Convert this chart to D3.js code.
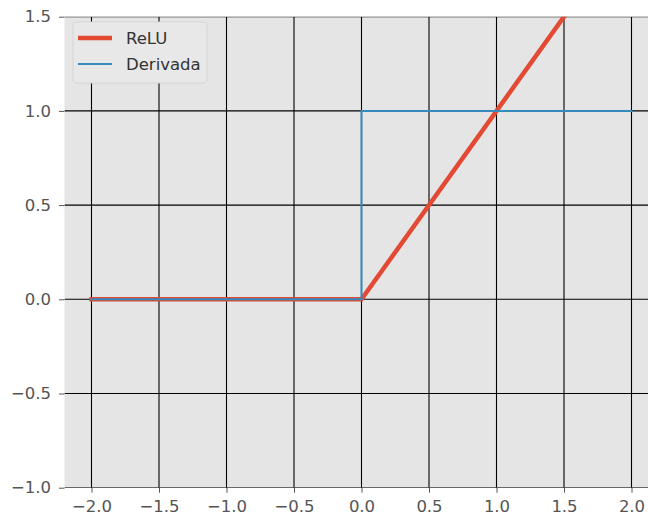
<!DOCTYPE html>
<html>
<head>
<meta charset="utf-8">
<script src="https://cdn.jsdelivr.net/npm/d3@7"></script>
<style>
  html, body { margin: 0; padding: 0; background: #ffffff; }
  svg { display: block; }
</style>
</head>
<body>
<svg id="chart" width="648" height="518"></svg>
<script>
// ---- data ----
const reluX = [-2, 0, 2];
const reluY = [0, 0, 2];
const derivX = [-2, 0, 0, 2];
const derivY = [0, 0, 1, 1];
const xTicks = [-2.0, -1.5, -1.0, -0.5, 0.0, 0.5, 1.0, 1.5, 2.0];
const yTicks = [-1.0, -0.5, 0.0, 0.5, 1.0, 1.5];
const seriesNames = ["ReLU", "Derivada"];
const xDomain = [-2.2, 2.2];
const yDomain = [-1.0, 1.5];

(function () {
// ---- layout ----
const svg = d3.select("#chart");
const pLeft = 64.5, pRight = 658.5, pTop = 16.7, pBottom = 487.7;
const x = d3.scaleLinear().domain(xDomain).range([pLeft, pRight]);
const y = d3.scaleLinear().domain(yDomain).range([pBottom, pTop]);
const font = "'DejaVu Sans', sans-serif";
const fsize = "16.5px";

svg.append("defs").append("clipPath").attr("id", "clip")
  .append("rect").attr("x", pLeft).attr("y", pTop)
  .attr("width", pRight - pLeft).attr("height", pBottom - pTop);

svg.append("rect").attr("x", pLeft).attr("y", pTop)
  .attr("width", pRight - pLeft).attr("height", pBottom - pTop)
  .attr("fill", "#e5e5e5");

// grid
const grid = svg.append("g").attr("clip-path", "url(#clip)");
grid.selectAll("line.vx").data(xTicks).join("line")
  .attr("x1", d => x(d)).attr("x2", d => x(d))
  .attr("y1", pTop).attr("y2", pBottom)
  .attr("stroke", "#000").attr("stroke-width", 1.1);
grid.selectAll("line.hy").data(yTicks).join("line")
  .attr("x1", pLeft).attr("x2", pRight)
  .attr("y1", d => y(d)).attr("y2", d => y(d))
  .attr("stroke", "#000").attr("stroke-width", 1.1);

// axes
const fmt = d3.format(".1f");
const xAxis = svg.append("g").attr("transform", `translate(0,${pBottom})`)
  .call(d3.axisBottom(x).tickValues(xTicks).tickFormat(fmt).tickSize(5).tickPadding(8));
const yAxis = svg.append("g").attr("transform", `translate(${pLeft},0)`)
  .call(d3.axisLeft(y).tickValues(yTicks).tickFormat(fmt).tickSize(5.5).tickPadding(8));
[xAxis, yAxis].forEach(a => {
  a.select(".domain").remove();
  a.selectAll(".tick line").attr("stroke", "#555").attr("stroke-width", 1);
  a.selectAll(".tick text").attr("fill", "#555")
    .style("font-family", font).style("font-size", fsize);
});

// lines
const plot = svg.append("g").attr("clip-path", "url(#clip)");
const line = d3.line().x(d => x(d[0])).y(d => y(d[1]));
plot.append("path").datum(d3.zip(reluX, reluY))
  .attr("d", line).attr("fill", "none")
  .attr("stroke", "#E24A33").attr("stroke-width", 4.5)
  .attr("stroke-linecap", "square");
plot.append("path").datum(d3.zip(derivX, derivY))
  .attr("d", line).attr("fill", "none")
  .attr("stroke", "#348ABD").attr("stroke-width", 2)
  .attr("stroke-linecap", "square");

// legend
const lg = svg.append("g");
lg.append("rect").attr("x", 73).attr("y", 22).attr("width", 134).attr("height", 61)
  .attr("rx", 3).attr("fill", "#e8e8e8").attr("stroke", "#d6d6d6").attr("stroke-width", 1);
const legendItems = [
  { name: seriesNames[0], color: "#E24A33", w: 4.5, cy: 38 },
  { name: seriesNames[1], color: "#348ABD", w: 2, cy: 64 }
];
legendItems.forEach(it => {
  lg.append("line").attr("x1", 78).attr("x2", 112).attr("y1", it.cy).attr("y2", it.cy)
    .attr("stroke", it.color).attr("stroke-width", it.w);
  lg.append("text").attr("x", 126).attr("y", it.cy).attr("dy", "0.35em")
    .attr("fill", "#333").style("font-family", font).style("font-size", fsize)
    .text(it.name);
});
})();
</script>
</body>
</html>
